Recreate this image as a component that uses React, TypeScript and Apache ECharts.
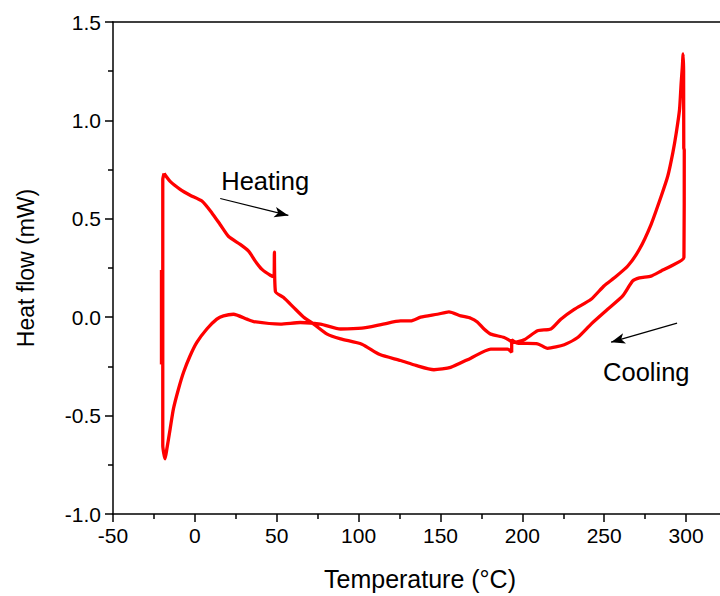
import React, { useEffect, useRef } from "react";
import * as echarts from "echarts";

// Temperature (°C) and heat flow (mW) along the measured loop, in recorded order
const temperature: number[] = [
  -18.8, -15.1, -9.0, -2.9, 4.3, 10.4, 15.5, 20.6, 27.7, 32.8, 36.9, 41.0, 46.1, 48.3, 48.6, 49.0, 49.2,
  54.2, 60.3, 66.5, 72.6, 80.8, 89.0, 102, 113, 125.6, 135, 146, 156.2, 168.5, 180.7, 190.9, 193.5, 193.5,
  197, 209.3, 215.4, 225.6, 233.8, 242, 252.1, 261.3, 267.4, 271.5, 278.6, 284.8, 290.9, 298.7,
  298.9, 298.6, 298.5, 298.2, 297.7, 297.0, 296.0, 294.0, 291.9, 288.8, 284.8, 278.6, 271.5, 264.4,
  256.2, 250, 242, 231.7, 223.5, 217.4, 209.3, 201.1, 195, 188.9, 180.7, 176.6, 172.5, 168.5, 162.4,
  155.2, 148.1, 137.9, 131.8, 125.6, 115, 102, 89, 76.7, 64.4, 52.2, 35.9, 31.8, 23.6, 17.5, 13.4,
  7.3, 1.2, -2.9, -6.9, -10, -13.1, -15.1, -17.1, -18.2, -19.6, -19.6, -18.8,
];
const heatFlow: number[] = [
  0.73, 0.69, 0.65, 0.62, 0.59, 0.53, 0.47, 0.41, 0.37, 0.336, 0.285, 0.243, 0.213, 0.206, 0.33, 0.33, 0.13,
  0.10, 0.05, 0.0, -0.035, -0.086, -0.11, -0.137, -0.19, -0.22, -0.245, -0.267, -0.255, -0.208, -0.162, -0.162, -0.178, -0.115,
  -0.132, -0.135, -0.158, -0.14, -0.103, -0.035, 0.04, 0.108, 0.184, 0.2, 0.209, 0.235, 0.26, 0.303,
  0.85, 0.86, 1.25, 1.338, 1.27, 1.19, 1.054, 0.936, 0.835, 0.716, 0.615, 0.471, 0.345, 0.26,
  0.2, 0.16, 0.091, 0.04, -0.01, -0.06, -0.069, -0.115, -0.128, -0.103, -0.086, -0.06, -0.024, -0.005, 0.007,
  0.027, 0.015, 0.0, -0.019, -0.019, -0.035, -0.056, -0.06, -0.035, -0.027, -0.035, -0.022, -0.01, 0.015, 0.007, -0.01,
  -0.06, -0.128, -0.196, -0.28, -0.365, -0.466, -0.568, -0.669, -0.72, -0.652, 0.70, 0.73,
];
// short initial trace at the start of heating
const startTemperature: number[] = [-20.4, -20.4];
const startHeatFlow: number[] = [0.24, -0.24];

const xTicks = [-50, 0, 50, 100, 150, 200, 250, 300];
const yTicks = [-1.0, -0.5, 0.0, 0.5, 1.0, 1.5];

// annotations in data coordinates
const heatingLabel = { text: "Heating", x: 16.1, y: 0.69 };
const heatingArrow = [[15.5, 0.603], [57.1, 0.517]];
const coolingLabel = { text: "Cooling", x: 249.3, y: -0.279 };
const coolingArrow = [[294.5, -0.03], [254.2, -0.127]];

export default function App() {
  const ref = useRef<HTMLDivElement>(null);
  useEffect(() => {
    document.body.style.margin = "0";
    document.body.style.overflow = "hidden";
    document.documentElement.style.overflow = "hidden";
    if (!ref.current) return;
    const chart = echarts.init(ref.current, undefined, { renderer: "svg" });
    const font = "'Liberation Sans', Arial, sans-serif";
    const axisLineStyle = { color: "#000", width: 1.5 };
    const mainData = temperature.map((t, i) => [t, heatFlow[i]]);
    const startData = startTemperature.map((t, i) => [t, startHeatFlow[i]]);
    const redLine = { color: "#ff0000", width: 3.3 };
    const xMax = 325;
    chart.setOption({
      animation: false,
      backgroundColor: "#fff",
      grid: { left: 113, top: 22, right: 0, bottom: 81 },
      xAxis: [
        {
          type: "value",
          min: xTicks[0],
          max: xMax,
          interval: 50,
          name: "Temperature (°C)",
          nameLocation: "middle",
          nameGap: 52,
          nameTextStyle: { fontSize: 25, color: "#000", fontFamily: font },
          axisLine: { show: true, onZero: false, lineStyle: axisLineStyle },
          axisTick: { show: true, inside: false, length: 8, lineStyle: axisLineStyle },
          minorTick: { show: true, splitNumber: 2, length: 5, lineStyle: { color: "#000", width: 1.5 } },
          splitLine: { show: false },
          axisLabel: {
            fontSize: 21,
            color: "#000",
            fontFamily: font,
            margin: 11,
            formatter: (v: number) => (xTicks.includes(v) ? String(v) : ""),
          },
        },
        {
          type: "value",
          position: "top",
          min: xTicks[0],
          max: xMax,
          axisLine: { show: true, onZero: false, lineStyle: axisLineStyle },
          axisTick: { show: false },
          axisLabel: { show: false },
          splitLine: { show: false },
        },
      ],
      yAxis: {
        type: "value",
        min: yTicks[0],
        max: yTicks[yTicks.length - 1],
        interval: 0.5,
        name: "Heat flow (mW)",
        nameLocation: "middle",
        nameGap: 76,
        nameTextStyle: { fontSize: 23, color: "#000", fontFamily: font },
        axisLine: { show: true, onZero: false, lineStyle: axisLineStyle },
        axisTick: { show: true, inside: false, length: 8, lineStyle: axisLineStyle },
        minorTick: { show: true, splitNumber: 2, length: 5, lineStyle: { color: "#000", width: 1.5 } },
        splitLine: { show: false },
        axisLabel: {
          fontSize: 21,
          color: "#000",
          fontFamily: font,
          margin: 12,
          formatter: (v: number) => v.toFixed(1),
        },
      },
      series: [
        {
          type: "line",
          data: startData,
          showSymbol: false,
          symbol: "none",
          lineStyle: redLine,
          z: 3,
        },
        {
          type: "line",
          data: mainData,
          showSymbol: false,
          symbol: "none",
          smooth: 0.2,
          lineStyle: redLine,
          z: 3,
          markLine: {
            silent: true,
            symbol: ["none", "arrow"],
            symbolSize: [8, 14],
            label: { show: false },
            lineStyle: { color: "#000", width: 1.2, type: "solid" },
            data: [
              [{ coord: heatingArrow[0] }, { coord: heatingArrow[1] }],
              [{ coord: coolingArrow[0] }, { coord: coolingArrow[1] }],
            ],
          },
        },
      ],
    });
    const labels = [heatingLabel, coolingLabel].map((l) => {
      const p = chart.convertToPixel({ gridIndex: 0 }, [l.x, l.y]) as number[];
      return {
        type: "text",
        x: p[0],
        y: p[1],
        style: {
          text: l.text,
          fontSize: 25.5,
          fontFamily: font,
          fill: "#000",
          textAlign: "left",
          textVerticalAlign: "middle",
        },
      };
    });
    chart.setOption({ graphic: labels });
    return () => chart.dispose();
  }, []);
  return <div ref={ref} style={{ width: 730, height: 596 }} />;
}
